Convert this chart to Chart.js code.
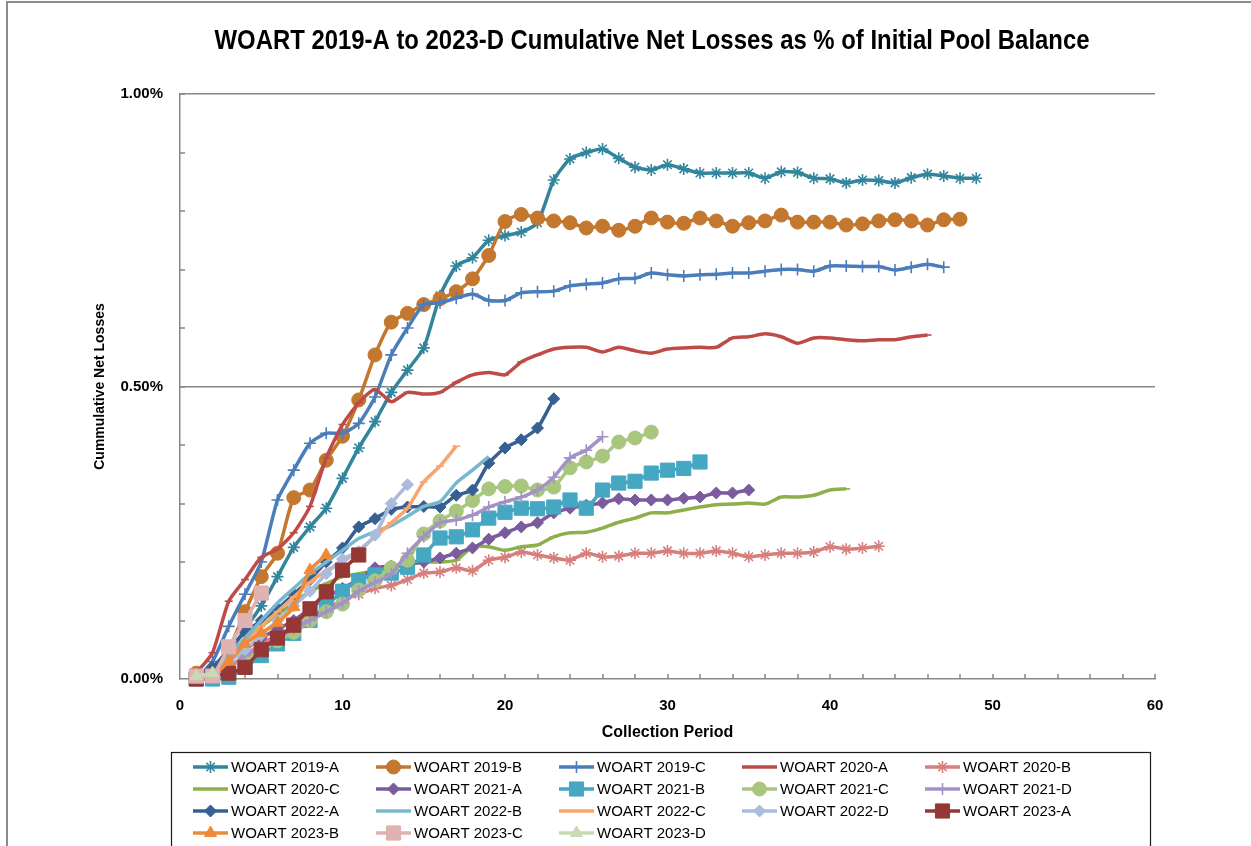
<!DOCTYPE html>
<html>
<head>
<meta charset="utf-8">
<title>WOART Cumulative Net Losses</title>
<script src="https://cdn.jsdelivr.net/npm/chart.js@4/dist/chart.umd.min.js"></script>
<style>
  html, body { margin: 0; padding: 0; background: #fff; }
  #wrap { width: 1251px; height: 846px; }
</style>
</head>
<body>
<div id="wrap"><canvas id="chart" width="1251" height="846"></canvas></div>
<script>
// cumulative net losses, % of initial pool balance, by collection period (starting at 1)
const seriesNames = [
  "WOART 2019-A", "WOART 2019-B", "WOART 2019-C", "WOART 2020-A", "WOART 2020-B",
  "WOART 2020-C", "WOART 2021-A", "WOART 2021-B", "WOART 2021-C", "WOART 2021-D",
  "WOART 2022-A", "WOART 2022-B", "WOART 2022-C", "WOART 2022-D", "WOART 2023-A",
  "WOART 2023-B", "WOART 2023-C", "WOART 2023-D"
];

const s2019A = [0.005, 0.015, 0.045, 0.085, 0.125, 0.175, 0.225, 0.26, 0.292, 0.343,
  0.395, 0.44, 0.49, 0.528, 0.566, 0.655, 0.706, 0.72, 0.75, 0.758,
  0.764, 0.78, 0.853, 0.889, 0.9, 0.906, 0.89, 0.875, 0.87, 0.879,
  0.872, 0.865, 0.865, 0.865, 0.865, 0.856, 0.867, 0.866, 0.856, 0.855,
  0.848, 0.853, 0.852, 0.848, 0.857, 0.863, 0.86, 0.856, 0.856];
const s2019B = [0.01, 0.015, 0.05, 0.115, 0.175, 0.215, 0.31, 0.323, 0.374, 0.415,
  0.477, 0.554, 0.61, 0.625, 0.64, 0.65, 0.662, 0.684, 0.724, 0.782,
  0.794, 0.788, 0.783, 0.78, 0.771, 0.774, 0.767, 0.774, 0.788, 0.781,
  0.779, 0.788, 0.783, 0.774, 0.78, 0.783, 0.793, 0.781, 0.781, 0.781,
  0.776, 0.778, 0.783, 0.785, 0.783, 0.776, 0.785, 0.786];
const s2019C = [0, 0.03, 0.09, 0.145, 0.2, 0.306, 0.357, 0.403, 0.42, 0.42,
  0.437, 0.482, 0.554, 0.6, 0.64, 0.643, 0.651, 0.658, 0.647, 0.647,
  0.66, 0.662, 0.663, 0.672, 0.675, 0.677, 0.684, 0.685, 0.694, 0.691,
  0.689, 0.691, 0.692, 0.694, 0.694, 0.697, 0.7, 0.7, 0.697, 0.706,
  0.706, 0.705, 0.705, 0.699, 0.704, 0.709, 0.704];
const s2020A = [0.01, 0.045, 0.133, 0.17, 0.208, 0.222, 0.25, 0.295, 0.378, 0.435,
  0.472, 0.495, 0.474, 0.49, 0.487, 0.49, 0.507, 0.52, 0.524, 0.52,
  0.542, 0.554, 0.564, 0.567, 0.567, 0.559, 0.567, 0.561, 0.557, 0.564,
  0.566, 0.567, 0.567, 0.583, 0.585, 0.59, 0.585, 0.574, 0.583, 0.583,
  0.58, 0.578, 0.58, 0.58, 0.585, 0.588];
const s2020B = [0.005, 0.01, 0.02, 0.04, 0.06, 0.075, 0.09, 0.105, 0.12, 0.135,
  0.145, 0.155, 0.16, 0.17, 0.181, 0.183, 0.19, 0.185, 0.203, 0.208,
  0.217, 0.212, 0.207, 0.203, 0.215, 0.209, 0.21, 0.215, 0.215, 0.219,
  0.215, 0.215, 0.219, 0.215, 0.209, 0.212, 0.215, 0.215, 0.217, 0.226,
  0.222, 0.224, 0.227];
const s2020C = [0.005, 0.015, 0.04, 0.065, 0.09, 0.11, 0.13, 0.15, 0.163, 0.175,
  0.18, 0.185, 0.19, 0.195, 0.2, 0.2, 0.203, 0.226, 0.226, 0.22,
  0.226, 0.229, 0.243, 0.25, 0.251, 0.258, 0.268, 0.275, 0.284, 0.284,
  0.289, 0.294, 0.298, 0.299, 0.301, 0.299, 0.311, 0.311, 0.314, 0.323,
  0.325];
const s2021A = [0, 0.01, 0.03, 0.05, 0.07, 0.085, 0.1, 0.12, 0.14, 0.155,
  0.17, 0.19, 0.193, 0.197, 0.2, 0.207, 0.215, 0.224, 0.239, 0.25,
  0.26, 0.267, 0.284, 0.292, 0.297, 0.301, 0.308, 0.306, 0.306, 0.306,
  0.309, 0.311, 0.318, 0.318, 0.323];
const s2021B = [0, 0, 0.003, 0.02, 0.04, 0.06, 0.078, 0.1, 0.125, 0.15,
  0.168, 0.178, 0.181, 0.191, 0.212, 0.241, 0.243, 0.255, 0.275, 0.285,
  0.292, 0.291, 0.294, 0.306, 0.292, 0.323, 0.335, 0.338, 0.352, 0.357,
  0.36, 0.371];
const s2021C = [0, 0.005, 0.02, 0.035, 0.05, 0.065, 0.08, 0.1, 0.115, 0.128,
  0.152, 0.168, 0.19, 0.203, 0.248, 0.27, 0.287, 0.305, 0.325, 0.329,
  0.33, 0.323, 0.328, 0.361, 0.371, 0.381, 0.405, 0.412, 0.422];
const s2021D = [0, 0.005, 0.02, 0.04, 0.055, 0.07, 0.085, 0.1, 0.115, 0.13,
  0.15, 0.165, 0.18, 0.215, 0.243, 0.267, 0.272, 0.28, 0.294, 0.303,
  0.311, 0.323, 0.345, 0.378, 0.391, 0.414];
const s2022A = [0.005, 0.02, 0.05, 0.08, 0.1, 0.12, 0.145, 0.17, 0.2, 0.224,
  0.26, 0.274, 0.29, 0.294, 0.295, 0.294, 0.314, 0.323, 0.369, 0.395,
  0.409, 0.429, 0.479];
const s2022B = [0, 0.01, 0.04, 0.07, 0.1, 0.13, 0.155, 0.18, 0.2, 0.22,
  0.24, 0.252, 0.262, 0.278, 0.295, 0.303, 0.335, 0.357, 0.38];
const s2022C = [0, 0.01, 0.03, 0.06, 0.09, 0.115, 0.14, 0.165, 0.185, 0.2,
  0.22, 0.243, 0.267, 0.292, 0.337, 0.364, 0.398];
const s2022D = [0, 0.01, 0.03, 0.05, 0.075, 0.1, 0.125, 0.15, 0.18, 0.205,
  0.218, 0.246, 0.3, 0.332];
const s2023A = [0, 0.005, 0.01, 0.02, 0.05, 0.07, 0.092, 0.12, 0.149, 0.186, 0.212];
const s2023B = [0, 0.005, 0.03, 0.06, 0.079, 0.096, 0.123, 0.186, 0.212];
const s2023C = [0.005, 0.005, 0.055, 0.1, 0.147];
const s2023D = [0.005, 0.01];

const seriesValues = [s2019A, s2019B, s2019C, s2020A, s2020B, s2020C, s2021A, s2021B, s2021C,
  s2021D, s2022A, s2022B, s2022C, s2022D, s2023A, s2023B, s2023C, s2023D];

// look
const seriesColors = ["#31859C", "#C4772F", "#4A7EBB", "#BE4B48", "#D67F7C", "#8DB04C",
  "#7A5C9E", "#46A7C2", "#A9C67F", "#A492C6", "#376092", "#78B8CF", "#F8A56E",
  "#A9BCDE", "#953735", "#EE8A3A", "#E0B2B1", "#C8DAB4"];
const seriesMarkers = ["star", "circle", "cross", "line", "star", "line", "rectRot", "rect",
  "circle", "cross", "rectRot", null, "line", "rectRot", "rect", "triangle", "rect", "triangle"];
const markerRadius = [6, 7, 6, 4, 6, 4, 6, 10, 7, 6, 6, 0, 4, 6, 10, 7, 10, 7];

const titleText = "WOART 2019-A to 2023-D Cumulative Net Losses as % of Initial Pool Balance";
const xTitle = "Collection Period";
const yTitle = "Cummulative Net Losses";

const LINE_STYLES = ["star", "cross", "line"];

const datasets = seriesNames.map((name, i) => {
  const marker = seriesMarkers[i];
  const c = seriesColors[i];
  return {
    label: name,
    data: seriesValues[i].map((v, k) => ({ x: k + 1, y: v })),
    borderColor: c,
    backgroundColor: c,
    borderWidth: 3.5,
    tension: 0.2,
    pointStyle: marker || "circle",
    pointRadius: marker ? markerRadius[i] : 0,
    pointHoverRadius: marker ? markerRadius[i] : 0,
    pointBorderColor: c,
    pointBackgroundColor: c,
    pointBorderWidth: LINE_STYLES.includes(marker) ? 1.6 : 1,
    clip: false,
    order: seriesNames.length - i // later series on top, like the original
  };
});

function drawMarker(ctx, style, radius, x, y, bw) {
  if (Chart.helpers && Chart.helpers.drawPoint) {
    Chart.helpers.drawPoint(ctx, { pointStyle: style, radius: radius, rotation: 0, borderWidth: bw }, x, y);
  }
}

const frameAndText = {
  id: "frameAndText",
  beforeDraw(chart) {
    const { ctx, width, height } = chart;
    ctx.save();
    ctx.fillStyle = "#fff";
    ctx.fillRect(0, 0, width, height);
    ctx.strokeStyle = "#8c8c8c";
    ctx.lineWidth = 2;
    ctx.strokeRect(7, 2, width + 10, height + 10);
    ctx.restore();
  },
  beforeDatasetsDraw(chart) {
    // inside tick marks, like the spreadsheet axes
    const { ctx, chartArea, scales } = chart;
    ctx.save();
    ctx.strokeStyle = "#878787";
    ctx.lineWidth = 1.5;
    ctx.beginPath();
    for (let k = 1; k <= 10; k++) {
      const py = Math.round(scales.y.getPixelForValue(k / 10));
      ctx.moveTo(chartArea.left, py);
      ctx.lineTo(chartArea.left + 5, py);
    }
    for (let p = 2; p <= 60; p += 2) {
      const px = Math.round(scales.x.getPixelForValue(p));
      ctx.moveTo(px, chartArea.bottom);
      ctx.lineTo(px, chartArea.bottom - 5);
    }
    ctx.stroke();
    ctx.restore();
  },
  afterDraw(chart) {
    const { ctx } = chart;
    // title, squeezed to the width of the original narrow face
    ctx.save();
    ctx.font = 'bold 28px "Liberation Sans", Arial, sans-serif';
    const w = ctx.measureText(titleText).width;
    ctx.translate(652, 41);
    ctx.scale(875 / w, 1);
    ctx.fillStyle = "#000";
    ctx.textAlign = "center";
    ctx.textBaseline = "middle";
    ctx.fillText(titleText, 0, 0);
    ctx.restore();

    // legend box, 5 columns
    ctx.save();
    ctx.strokeStyle = "#1a1a1a";
    ctx.lineWidth = 1.2;
    ctx.strokeRect(171.5, 752.5, 979, 120);
    ctx.font = '15px "Liberation Sans", Arial, sans-serif';
    ctx.textBaseline = "middle";
    ctx.textAlign = "left";
    chart.data.datasets.forEach((ds, i) => {
      const col = i % 5, row = Math.floor(i / 5);
      const x0 = 193 + col * 183, y0 = 767 + row * 22;
      ctx.strokeStyle = ds.borderColor;
      ctx.fillStyle = ds.borderColor;
      ctx.lineWidth = 3.5;
      ctx.beginPath();
      ctx.moveTo(x0, y0);
      ctx.lineTo(x0 + 35, y0);
      ctx.stroke();
      if (ds.pointRadius > 0) {
        ctx.lineWidth = ds.pointBorderWidth;
        drawMarker(ctx, ds.pointStyle, ds.pointRadius, x0 + 17.5, y0, ds.pointBorderWidth);
      }
      ctx.fillStyle = "#000";
      ctx.fillText(ds.label, x0 + 38, y0 + 1);
    });
    ctx.restore();
  }
};

const isHalf = (v) => Math.abs(v * 2 - Math.round(v * 2)) < 1e-6;

new Chart(document.getElementById("chart"), {
  type: "line",
  data: { datasets },
  plugins: [frameAndText],
  options: {
    responsive: false,
    devicePixelRatio: 1,
    animation: false,
    layout: { padding: { left: 80, top: 94, right: 96, bottom: 97 } },
    plugins: {
      legend: { display: false },
      title: { display: false },
      tooltip: { enabled: false }
    },
    scales: {
      x: {
        type: "linear",
        min: 0,
        max: 60,
        afterFit: (s) => { s.height = 70; },
        ticks: {
          stepSize: 2,
          autoSkip: false,
          maxRotation: 0,
          padding: 18,
          color: "#000",
          font: { family: '"Liberation Sans", Arial, sans-serif', size: 15, weight: "bold" },
          callback: (v) => (v % 10 === 0 ? String(v) : "")
        },
        grid: { display: false, drawTicks: false },
        border: { display: true, color: "#878787", width: 1.5 },
        title: {
          display: true,
          text: xTitle,
          color: "#000",
          font: { family: '"Liberation Sans", Arial, sans-serif', size: 16, weight: "bold" },
          padding: { top: 0, bottom: 7 }
        }
      },
      y: {
        min: 0,
        max: 1,
        afterFit: (s) => { s.width = 100; },
        ticks: {
          stepSize: 0.1,
          autoSkip: false,
          padding: 17,
          color: "#000",
          font: { family: '"Liberation Sans", Arial, sans-serif', size: 15, weight: "bold" },
          callback: (v) => (isHalf(v) ? v.toFixed(2) + "%" : "")
        },
        grid: {
          drawTicks: false,
          lineWidth: 1.5,
          color: (c) => (c.tick && c.tick.value > 0 && isHalf(c.tick.value) ? "#878787" : "rgba(0,0,0,0)")
        },
        border: { display: true, color: "#878787", width: 1.5 },
        title: {
          display: true,
          text: yTitle,
          color: "#000",
          font: { family: '"Liberation Sans", Arial, sans-serif', size: 14, weight: "bold" },
          padding: { top: 12, bottom: 0 }
        }
      }
    }
  }
});
</script>
</body>
</html>
